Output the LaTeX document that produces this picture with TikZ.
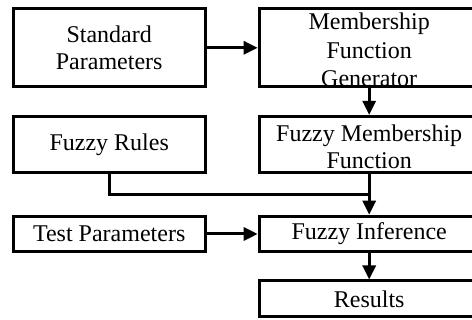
\documentclass[tikz,border=0pt]{standalone}
\usepackage{fontspec}
\setmainfont{Liberation Serif}
\usetikzlibrary{positioning,arrows.meta,calc}

\begin{document}
\begin{tikzpicture}[font=\fontsize{12}{13.6}\selectfont, line width=1.5pt, >={Triangle[length=7pt,width=6.5pt]},
        box/.style={rectangle, draw, align=center, inner sep=2pt, minimum width=96pt},
        wide/.style={box, minimum width=110pt}]
        \useasboundingbox (0,0) rectangle (236pt,-160pt);
        \node (std) [box, minimum height=39.2pt] at (54.6pt,-23.9pt) {Standard\\Parameters};
        \node (mfg) [wide, minimum height=39.2pt, right=25.5pt of std, label={[align=center, font=\fontsize{12}{14.2}\selectfont, yshift=-1pt]center:Membership\\Function\\Generator}] {};
        \node (rules) [box, minimum height=28.2pt, below=13.2pt of std] {Fuzzy Rules};
        \node (fmf) [wide, minimum height=28.2pt, below=13.2pt of mfg, label={[align=center, yshift=-1pt]center:Fuzzy Membership\\Function}] {};
        \node (test) [box, minimum height=17.8pt, below=20.2pt of rules] {Test Parameters};
        \node (inf) [wide, minimum height=17.8pt, below=20.2pt of fmf] {Fuzzy Inference};
        \node (res) [wide, minimum height=17.8pt, below=13.1pt of inf] {Results};

        \coordinate (join) at ($(fmf.south)!0.5!(inf.north)$);

        \draw[->] (std) -- (mfg);
        \draw[->] (mfg) -- (fmf);
        \draw[->] (fmf) -- (inf);
        \draw (rules) |- (join);
        \draw[->] (test) -- (inf);
        \draw[->] (inf) -- (res);
    \end{tikzpicture}
\end{document}
